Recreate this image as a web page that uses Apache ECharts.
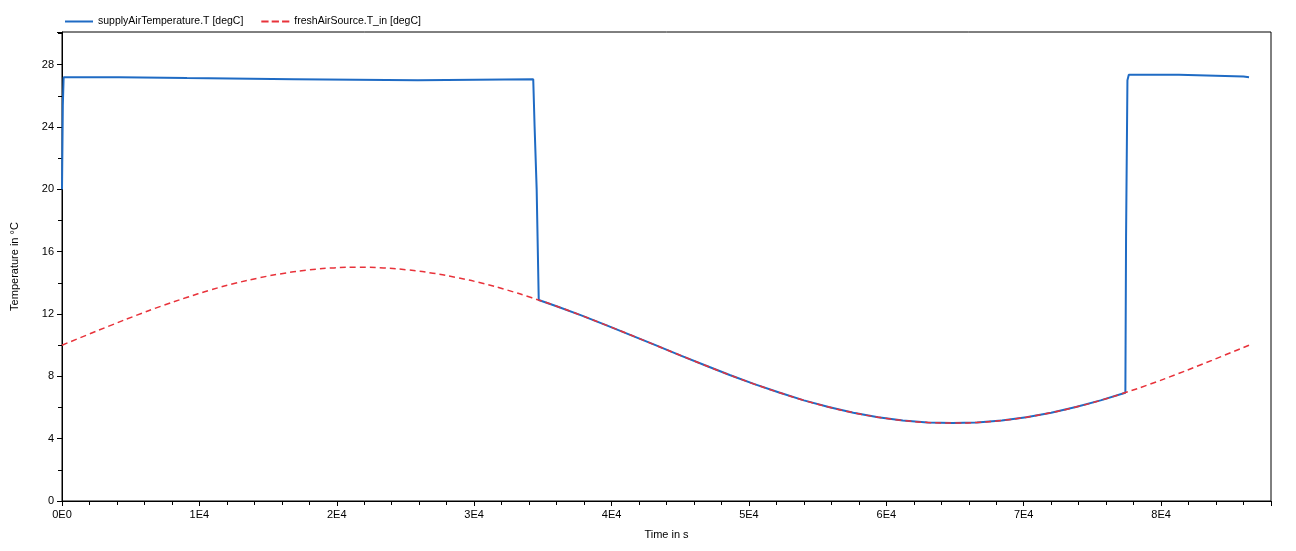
<!DOCTYPE html>
<html><head><meta charset="utf-8">
<script src="https://cdn.jsdelivr.net/npm/echarts@6/dist/echarts.min.js"></script>
<style>html,body{margin:0;padding:0;background:#fff}#c{width:1296px;height:551px}</style>
</head><body><div id="c"></div>
<script>
const seriesNames = ['supplyAirTemperature.T [degC]', 'freshAirSource.T_in [degC]'];
const freshTimes = [0,1800,3600,5400,7200,9000,10800,12600,14400,16200,18000,19800,21600,23400,25200,27000,28800,30600,32400,34200,36000,37800,39600,41400,43200,45000,46800,48600,50400,52200,54000,55800,57600,59400,61200,63000,64800,66600,68400,70200,72000,73800,75600,77400,79200,81000,82800,84600,86400];
const freshValues = [10,10.65,11.29,11.91,12.5,13.04,13.54,13.97,14.33,14.62,14.83,14.96,15,14.96,14.83,14.62,14.33,13.97,13.54,13.04,12.5,11.91,11.29,10.65,10,9.35,8.71,8.09,7.5,6.96,6.46,6.03,5.67,5.38,5.17,5.04,5,5.04,5.17,5.38,5.67,6.03,6.46,6.96,7.5,8.09,8.71,9.35,10];
const supplyTimes = [0,60,120,4150,4151,9090,9091,16870,16871,25890,25891,34300,34400,34550,34700,36000,37800,39600,41400,43200,45000,46800,48600,50400,52200,54000,55800,57600,59400,61200,63000,64800,66600,68400,70200,72000,73800,75600,77400,77450,77550,77650,81300,81301,86000,86001,86400];
const supplyValues = [20,25.4,27.2,27.2,27.14,27.14,27.07,27.07,27.0,27.0,27.07,27.07,24,20,12.9,12.5,11.91,11.29,10.65,10,9.35,8.71,8.09,7.5,6.96,6.46,6.03,5.67,5.38,5.17,5.04,5,5.04,5.17,5.38,5.67,6.03,6.46,6.95,17,27.0,27.35,27.35,27.25,27.25,27.2,27.2];
const xTickLabels = {0:'0E0',10000:'1E4',20000:'2E4',30000:'3E4',40000:'4E4',50000:'5E4',60000:'6E4',70000:'7E4',80000:'8E4'};

const chart = echarts.init(document.getElementById('c'));
const font = 'Liberation Sans, Arial, sans-serif';
chart.setOption({
  animation: false,
  legend: {
    left: 60, top: 11, itemWidth: 28, itemHeight: 10, itemGap: 18,
    textStyle: {fontSize: 10.5, color: '#000', fontFamily: font},
    data: [{name: seriesNames[0], icon: 'path://M0,4L28,4L28,6L0,6Z'},
           {name: seriesNames[1], icon: 'path://M0,4L7,4L7,6L0,6ZM10,4L17,4L17,6L10,6ZM20,4L27,4L27,6L20,6Z'}]
  },
  grid: {left: 62, right: 25, top: 32, bottom: 50, show: true, borderColor: '#000', borderWidth: 1},
  xAxis: {
    type: 'value', min: 0, max: 88000, interval: 10000,
    name: 'Time in s', nameLocation: 'middle', nameGap: 28,
    nameTextStyle: {fontSize: 11, color: '#000', fontFamily: font},
    axisLine: {lineStyle: {color: '#000'}}, axisTick: {length: 5, lineStyle: {color: '#000'}},
    minorTick: {show: true, splitNumber: 5, length: 4, lineStyle: {color: '#000'}},
    splitLine: {show: false},
    axisLabel: {fontSize: 11, color: '#000', fontFamily: font, margin: 8, formatter: v => xTickLabels[v] !== undefined ? xTickLabels[v] : ''}
  },
  yAxis: {
    type: 'value', min: 0, max: 30.1, interval: 4,
    name: 'Temperature in °C', nameLocation: 'middle', nameGap: 42,
    nameTextStyle: {fontSize: 11, color: '#000', fontFamily: font},
    axisLine: {show: true, lineStyle: {color: '#000'}}, axisTick: {show: true, length: 5, lineStyle: {color: '#000'}},
    minorTick: {show: true, splitNumber: 2, length: 4, lineStyle: {color: '#000'}},
    splitLine: {show: false},
    axisLabel: {fontSize: 11, color: '#000', fontFamily: font, margin: 8, formatter: v => (v % 4 === 0 ? String(v) : '')}
  },
  series: [
    {name: seriesNames[0], type: 'line', showSymbol: false, symbol: 'none', z: 2,
     lineStyle: {color: '#1f6bc4', width: 2}, itemStyle: {color: '#1f6bc4'},
     data: supplyTimes.map((t, i) => [t, supplyValues[i]])},
    {name: seriesNames[1], type: 'line', showSymbol: false, symbol: 'none', smooth: true, z: 3,
     lineStyle: {color: '#e8323a', width: 1.5, type: [6, 4]}, itemStyle: {color: '#e8323a'},
     data: freshTimes.map((t, i) => [t, freshValues[i]])}
  ]
});
</script></body></html>
